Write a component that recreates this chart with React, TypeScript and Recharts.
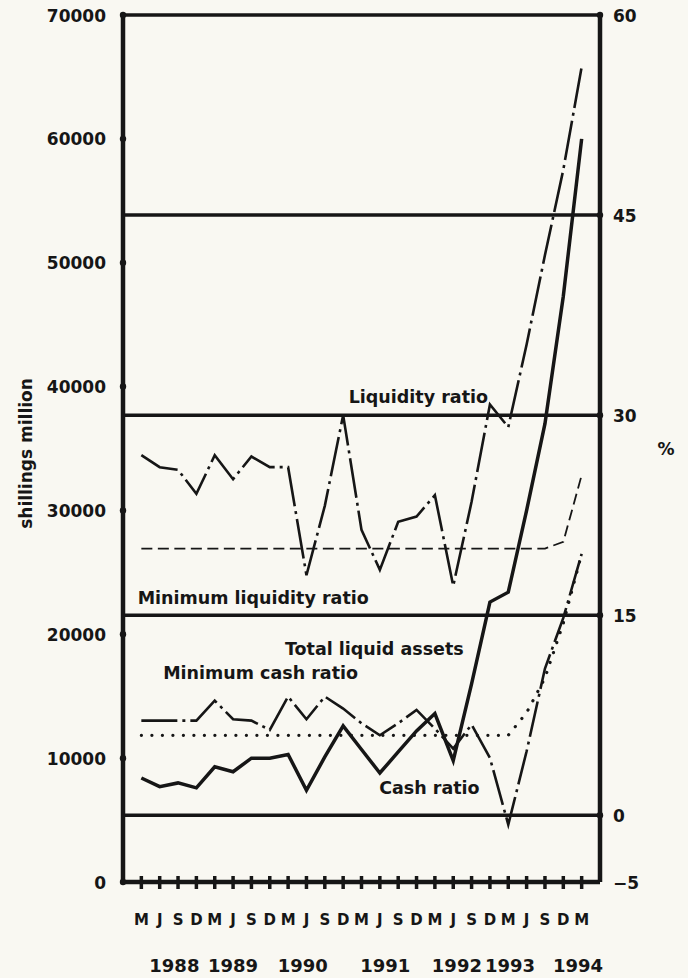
import React from 'react';
import { LineChart, Line, XAxis, YAxis, ReferenceLine, ReferenceDot } from 'recharts';

// quarters from March 1988 to March 1994
const quarters = [
  'M', 'J', 'S', 'D', 'M', 'J', 'S', 'D', 'M', 'J', 'S', 'D', 'M',
  'J', 'S', 'D', 'M', 'J', 'S', 'D', 'M', 'J', 'S', 'D', 'M',
];

// shillings million (left axis)
const totalLiquidAssets = [
  8400, 7700, 8000, 7600, 9300, 8900, 10000, 10000, 10300, 7400, 10100, 12600, 10700,
  8800, 10500, 12200, 13600, 9800, 16000, 22600, 23400, 30000, 37000, 47300, 60000,
];

// per cent (right axis)
const liquidityRatio = [
  27.0, 26.1, 25.9, 24.1, 27.0, 25.2, 26.9, 26.1, 26.1, 18.0, 23.2, 30.0, 21.4,
  18.4, 22.0, 22.4, 24.0, 17.2, 23.5, 30.8, 29.1, 35.3, 42.0, 48.4, 56.1,
];
const minLiquidityRatio = [
  20, 20, 20, 20, 20, 20, 20, 20, 20, 20, 20, 20, 20,
  20, 20, 20, 20, 20, 20, 20, 20, 20, 20, 20.5, 25.5,
];
const cashRatio = [
  7.1, 7.1, 7.1, 7.1, 8.6, 7.2, 7.1, 6.4, 8.9, 7.2, 8.9, 8.0, 6.9,
  6.0, 6.9, 7.9, 6.5, 5.0, 6.8, 4.3, -0.7, 4.8, 11.0, 14.8, 19.6,
];
const minCashRatio = [
  6, 6, 6, 6, 6, 6, 6, 6, 6, 6, 6, 6, 6,
  6, 6, 6, 6, 6, 6, 6, 6, 7.7, 10.3, 14.4, 19.6,
];

const amountTicks = [0, 10000, 20000, 30000, 40000, 50000, 60000, 70000];
const percentTicks = [-5, 0, 15, 30, 45, 60];
const percentRules = [0, 15, 30, 45, 60];

const years = ['1988', '1989', '1990', '1991', '1992', '1993', '1994'];
const yearAt = [1.8, 5.0, 8.8, 13.3, 17.2, 20.1, 23.8];

const notes = [
  { text: 'Liquidity ratio', at: 15.1, pct: 31.4 },
  { text: 'Minimum liquidity ratio', at: 6.1, pct: 16.3 },
  { text: 'Total liquid assets', at: 12.7, pct: 12.5 },
  { text: 'Minimum cash ratio', at: 6.5, pct: 10.7 },
  { text: 'Cash ratio', at: 15.7, pct: 2.1 },
];

const rows = quarters.map((q, i) => ({
  idx: i,
  q,
  total: totalLiquidAssets[i],
  liq: liquidityRatio[i],
  minLiq: minLiquidityRatio[i],
  cash: cashRatio[i],
  minCash: minCashRatio[i],
}));

const INK = '#161616';
const PAPER = '#f9f8f2';
const FONT = "'DejaVu Sans', 'Liberation Sans', sans-serif";

const txt = { fontFamily: FONT, fontWeight: 700, fill: INK } as const;

const MonthTick = ({ x, y, payload }: any) => (
  <g>
    <line x1={x} x2={x} y1={y - 6} y2={y + 7} stroke={INK} strokeWidth={3.5} />
    <text x={x} y={y + 43} textAnchor="middle" fontSize={15} {...txt}>
      {quarters[payload.value]}
    </text>
  </g>
);

const YearTick = ({ x, y, index }: any) => (
  <text x={x} y={y + 40} textAnchor="middle" fontSize={18} {...txt}>
    {years[index]}
  </text>
);

const AmountTick = ({ x, y, payload }: any) => (
  <g>
    <circle cx={x} cy={y} r={3.2} fill={INK} />
    <text x={x - 17} y={y + 6.5} textAnchor="end" fontSize={17} {...txt}>
      {payload.value}
    </text>
  </g>
);

const PercentTick = ({ x, y, payload }: any) => (
  <g>
    {payload.value > -5 && <circle cx={x} cy={y} r={3.2} fill={INK} />}
    <text x={x + 13} y={y + 6.5} textAnchor="start" fontSize={17} {...txt}>
      {payload.value < 0 ? `\u2212${-payload.value}` : payload.value}
    </text>
  </g>
);

const noteLabel = (text: string) => (p: any) => {
  const vb = p.viewBox || { x: 0, y: 0 };
  return (
    <text x={vb.x} y={vb.y + 6.3} textAnchor="middle" fontSize={17.5} {...txt}>
      {text}
    </text>
  );
};

const App = () => {
  return (
    <div style={{ position: 'absolute', left: 0, top: 0, width: 688, height: 978, background: PAPER }}>
      <LineChart width={688} height={978} data={rows} margin={{ top: 15, right: 0, bottom: 0, left: 0 }}>
        <XAxis
          dataKey="idx"
          type="number"
          domain={[-1, 25]}
          ticks={rows.map((r) => r.idx)}
          interval={0}
          tick={<MonthTick />}
          tickLine={false}
          tickSize={0}
          tickMargin={0}
          height={50}
          axisLine={{ stroke: INK, strokeWidth: 4.5 }}
        />
        <XAxis
          xAxisId="yr"
          dataKey="idx"
          type="number"
          domain={[-1, 25]}
          allowDataOverflow
          ticks={yearAt}
          interval={0}
          tick={<YearTick />}
          tickLine={false}
          tickSize={0}
          tickMargin={0}
          height={46}
          axisLine={false}
        />
        <YAxis
          yAxisId="amt"
          width={123}
          domain={[0, 70000]}
          allowDataOverflow
          ticks={amountTicks}
          interval={0}
          tick={<AmountTick />}
          tickLine={false}
          tickSize={0}
          tickMargin={0}
          axisLine={{ stroke: INK, strokeWidth: 4.5 }}
          label={(p: any) => {
            const vb = p.viewBox || { x: 0, y: 0, height: 0 };
            const cx = vb.x + 26;
            const cy = vb.y + vb.height / 2 + 5;
            return (
              <text transform={`translate(${cx},${cy}) rotate(-90)`} textAnchor="middle" dominantBaseline="central" fontSize={17} {...txt}>
                shillings million
              </text>
            );
          }}
        />
        <YAxis
          yAxisId="pct"
          orientation="right"
          width={88}
          domain={[-5, 60]}
          allowDataOverflow
          ticks={percentTicks}
          interval={0}
          tick={<PercentTick />}
          tickLine={false}
          tickSize={0}
          tickMargin={0}
          axisLine={{ stroke: INK, strokeWidth: 4.5 }}
          label={(p: any) => {
            const vb = p.viewBox || { x: 0, y: 0, height: 0 };
            return (
              <text x={vb.x + 66} y={vb.y + vb.height / 2 + 6} textAnchor="middle" fontSize={17} {...txt}>
                %
              </text>
            );
          }}
        />

        {percentRules.map((v) => (
          <ReferenceLine key={v} yAxisId="pct" y={v} stroke={INK} strokeWidth={3.5} />
        ))}

        <Line yAxisId="amt" dataKey="total" stroke={INK} strokeWidth={3.5} dot={false} isAnimationActive={false} />
        <Line
          yAxisId="pct"
          dataKey="liq"
          stroke={INK}
          strokeWidth={2.6}
          strokeDasharray="40 5 3 5"
          dot={false}
          isAnimationActive={false}
        />
        <Line
          yAxisId="pct"
          dataKey="minLiq"
          stroke={INK}
          strokeWidth={1.8}
          strokeDasharray="11 5.5"
          dot={false}
          isAnimationActive={false}
        />
        <Line
          yAxisId="pct"
          dataKey="cash"
          stroke={INK}
          strokeWidth={2.6}
          strokeDasharray="36 5 3 5"
          dot={false}
          isAnimationActive={false}
        />
        <Line
          yAxisId="pct"
          dataKey="minCash"
          stroke={INK}
          strokeWidth={3.2}
          strokeLinecap="round"
          strokeDasharray="0.1 10.4"
          dot={false}
          isAnimationActive={false}
        />

        {notes.map((n) => (
          <ReferenceDot
            key={n.text}
            yAxisId="pct"
            x={n.at}
            y={n.pct}
            r={0}
            fill="none"
            stroke="none"
            label={noteLabel(n.text)}
          />
        ))}
      </LineChart>
    </div>
  );
};

export default App;
